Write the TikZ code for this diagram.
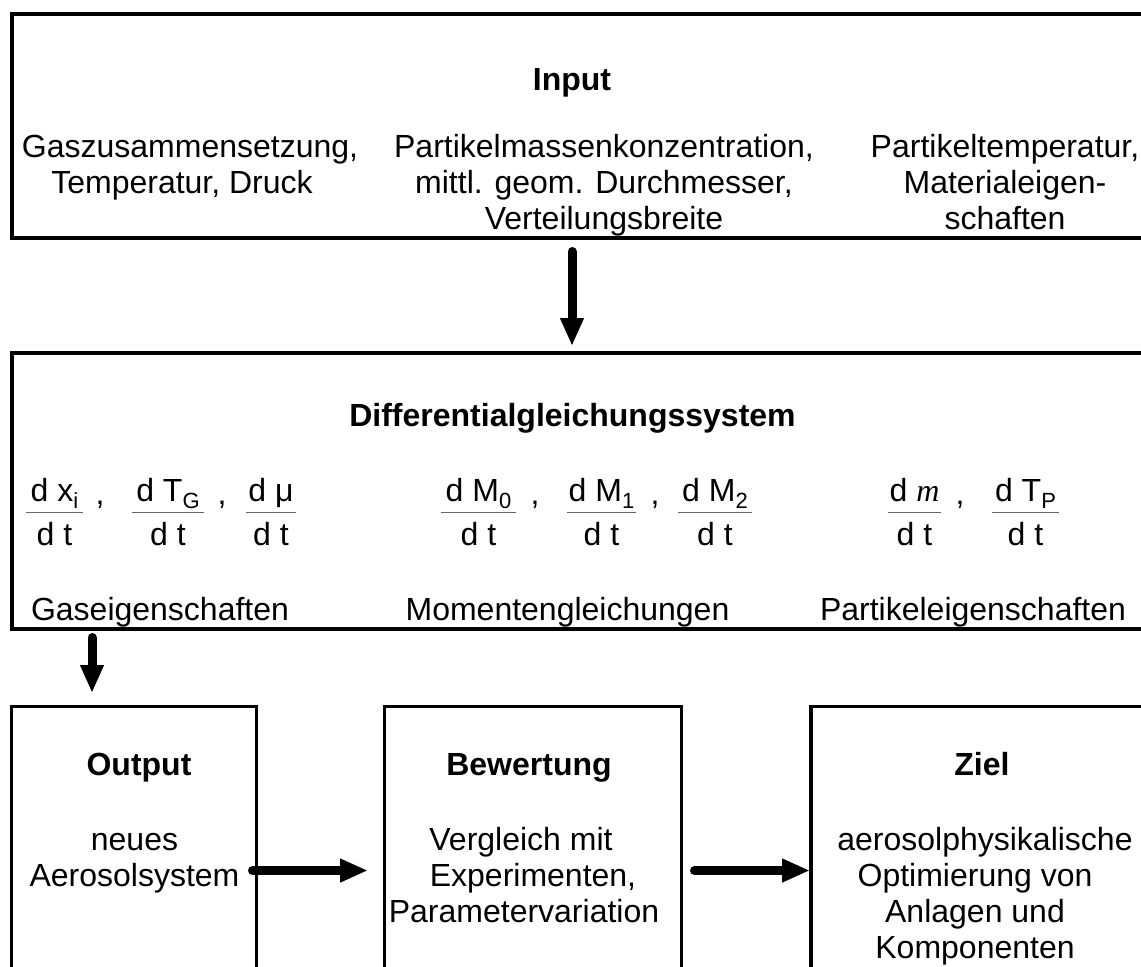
\documentclass[tikz,border=0pt]{standalone}
\usepackage{fontspec}
\setmainfont{Liberation Sans}
\newfontfamily\timesfam{Liberation Serif}
\usetikzlibrary{arrows.meta}
\newcommand\lsub[1]{\raisebox{-3.5pt}{\fontsize{11}{12}\selectfont #1}}
\newcommand\colbox[1]{\begin{tabular}[t]{@{}c@{}}#1\end{tabular}}
\newcommand\fracnode[4]{%
  \node[txt, anchor=base] (#1-num) at ({(#2+#3)/2},501) {#4};
  \node[txt, anchor=base] (#1-den) at ({(#2+#3)/2},545) {d t};
  \path[fracbar] (#2,512.5) -- (#3,512.5);}
\begin{document}
\begin{tikzpicture}[x=0.5pt, y=-0.5pt,
  txt/.style={inner sep=0pt, font=\fontsize{16}{18}\selectfont},
  head/.style={inner sep=0pt, font=\fontsize{16}{18}\selectfont\bfseries},
  bigbox/.style={draw, line width=2pt, inner sep=0pt, outer sep=0pt},
  smallbox/.style={draw, line width=1.6pt, inner sep=0pt, outer sep=0pt},
  fracbar/.style={draw=black!60, line width=0.9pt},
  bigarrow/.style={line width=4.5pt, line cap=round, -{Triangle[length=14pt,width=11pt]}}]
\useasboundingbox (0,0) rectangle (1141,966);
\clip (0,0) rectangle (1141,966);
% boxes
\node[bigbox, minimum width=574.25pt, minimum height=112.25pt] (inbox) at (585.75,125.75) {};
\node[bigbox, minimum width=574.25pt, minimum height=137.85pt] (difbox) at (585.75,490.85) {};
\node[smallbox, minimum width=122.5pt, minimum height=164.2pt] (outbox) at (133.8,870.5) {};
\node[smallbox, minimum width=148.5pt, minimum height=164.2pt] (bewbox) at (532.8,870.5) {};
\node[smallbox, minimum width=174.5pt, minimum height=164.2pt] (zielbox) at (985.5,870.5) {};
% input box
\node[head, anchor=base] (inhead) at (572,90) {Input};
\node[txt, anchor=base] (incol1) at (186,157) {\colbox{\hspace*{4pt}Gaszusammensetzung,\\Temperatur, Druck\hspace*{4pt}}};
\node[txt, anchor=base] (incol2) at (604,157) {\colbox{Partikelmassenkonzentration,\\mittl. geom. Durchmesser,\\Verteilungsbreite}};
\node[txt, anchor=base] (incol3) at (1005,157) {\colbox{Partikeltemperatur,\\Materialeigen-\\schaften}};
% differential system box
\node[head, anchor=base] (difhead) at (572.5,426) {Differentialgleichungssystem};
\fracnode{fx}{26}{83}{d x\lsub{i}}
\fracnode{fT}{132}{204}{d T\lsub{G}}
\fracnode{fmu}{246}{296}{d μ}
\fracnode{fMa}{441}{516}{d M\lsub{0}}
\fracnode{fMb}{567}{636}{d M\lsub{1}}
\fracnode{fMc}{678}{752}{d M\lsub{2}}
\fracnode{fm}{888}{941}{d {\timesfam\itshape m}}
\fracnode{fTP}{992}{1059}{d T\lsub{P}}
\node[txt, anchor=base] (ca) at (100,504) {,};
\node[txt, anchor=base] (cb) at (222,504) {,};
\node[txt, anchor=base] (cc) at (535,504) {,};
\node[txt, anchor=base] (cd) at (655,504) {,};
\node[txt, anchor=base] (ce) at (960,504) {,};
\node[txt, anchor=base] (gasl) at (160,620) {Gaseigenschaften};
\node[txt, anchor=base] (moml) at (567.5,620) {Momentengleichungen};
\node[txt, anchor=base] (partl) at (973,620) {Partikeleigenschaften};
% bottom boxes
\node[head, anchor=base] (outhead) at (139,775) {Output};
\node[txt, anchor=base] (outtxt) at (134.5,850) {\colbox{neues\\Aerosolsystem}};
\node[head, anchor=base] (bewhead) at (529,775) {Bewertung};
\node[txt, anchor=base] (bewtxt) at (528,850) {\colbox{Vergleich mit\hspace*{7pt}\\\hspace*{5pt}Experimenten,\\Parametervariation\hspace*{4pt}}};
\node[head, anchor=base] (zielhead) at (982,775) {Ziel};
\node[txt, anchor=base] (zieltxt) at (975,850) {\colbox{\hspace*{10pt}aerosolphysikalische\\Optimierung von\\Anlagen und\\Komponenten}};
% arrows
\coordinate (a2x) at (92,660);
\draw[bigarrow, shorten <=6.75pt, shorten >=3.5pt] (inbox.south -| inhead) -- (difbox.north -| inhead);
\draw[bigarrow, shorten <=4.4pt, shorten >=6.65pt] (difbox.south -| a2x) -- (outbox.north -| a2x);
\draw[bigarrow, shorten <=-1.9pt, shorten >=8.15pt] (outbox.east) -- (bewbox.west);
\draw[bigarrow, shorten <=6.6pt, shorten >=0.5pt] (bewbox.east) -- (zielbox.west);
\end{tikzpicture}
\end{document}
